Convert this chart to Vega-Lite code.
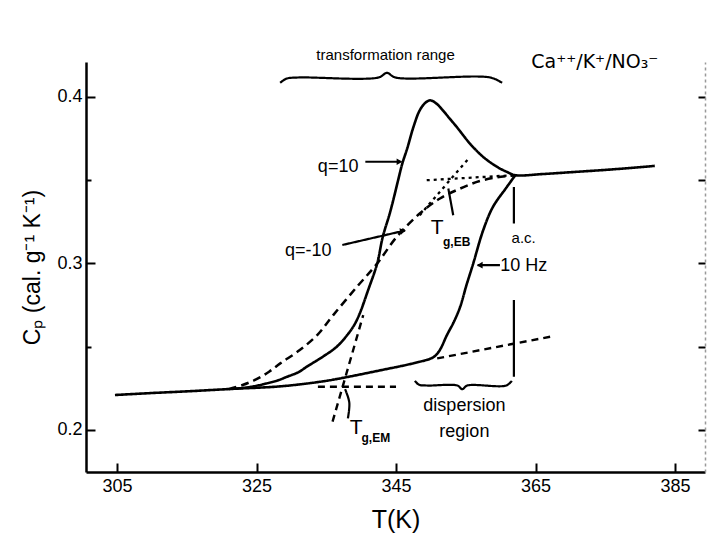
{
  "$schema": "https://vega.github.io/schema/vega-lite/v6.json",
  "width": 619,
  "height": 410,
  "autosize": "none",
  "padding": {"left": 86, "top": 62, "right": 2, "bottom": 74},
  "background": "white",
  "config": {"view": {"stroke": null}, "font": "Liberation Sans"},
  "datasets": {
    "lines": [
      {"s":"ac","kind":"curve","i":0,"T":304.7,"Cp":0.221},
      {"s":"ac","kind":"curve","i":1,"T":310,"Cp":0.2222},
      {"s":"ac","kind":"curve","i":2,"T":315,"Cp":0.2232},
      {"s":"ac","kind":"curve","i":3,"T":322,"Cp":0.2248},
      {"s":"ac","kind":"curve","i":4,"T":328.4,"Cp":0.2262},
      {"s":"ac","kind":"curve","i":5,"T":334.5,"Cp":0.2292},
      {"s":"ac","kind":"curve","i":6,"T":338,"Cp":0.2318},
      {"s":"ac","kind":"curve","i":7,"T":342.7,"Cp":0.2358},
      {"s":"ac","kind":"curve","i":8,"T":347.4,"Cp":0.2400},
      {"s":"ac","kind":"curve","i":9,"T":350.3,"Cp":0.2436},
      {"s":"ac","kind":"curve","i":10,"T":351.2,"Cp":0.2475},
      {"s":"ac","kind":"curve","i":11,"T":352.3,"Cp":0.257},
      {"s":"ac","kind":"curve","i":12,"T":353.3,"Cp":0.265},
      {"s":"ac","kind":"curve","i":13,"T":354.2,"Cp":0.274},
      {"s":"ac","kind":"curve","i":14,"T":355.1,"Cp":0.287},
      {"s":"ac","kind":"curve","i":15,"T":356,"Cp":0.299},
      {"s":"ac","kind":"curve","i":16,"T":357.5,"Cp":0.320},
      {"s":"ac","kind":"curve","i":17,"T":358.9,"Cp":0.334},
      {"s":"ac","kind":"curve","i":18,"T":360.9,"Cp":0.346},
      {"s":"ac","kind":"curve","i":19,"T":362.1,"Cp":0.353},

      {"s":"q10","kind":"curve","i":0,"T":322,"Cp":0.2248},
      {"s":"q10","kind":"curve","i":1,"T":324,"Cp":0.2258},
      {"s":"q10","kind":"curve","i":2,"T":326,"Cp":0.2275},
      {"s":"q10","kind":"curve","i":3,"T":328,"Cp":0.2297},
      {"s":"q10","kind":"curve","i":4,"T":329.4,"Cp":0.232},
      {"s":"q10","kind":"curve","i":5,"T":331,"Cp":0.2347},
      {"s":"q10","kind":"curve","i":6,"T":332.2,"Cp":0.238},
      {"s":"q10","kind":"curve","i":7,"T":334.5,"Cp":0.244},
      {"s":"q10","kind":"curve","i":8,"T":336.5,"Cp":0.250},
      {"s":"q10","kind":"curve","i":9,"T":338,"Cp":0.257},
      {"s":"q10","kind":"curve","i":10,"T":339,"Cp":0.263},
      {"s":"q10","kind":"curve","i":11,"T":339.8,"Cp":0.270},
      {"s":"q10","kind":"curve","i":12,"T":341,"Cp":0.284},
      {"s":"q10","kind":"curve","i":13,"T":342.3,"Cp":0.300},
      {"s":"q10","kind":"curve","i":14,"T":343.1,"Cp":0.316},
      {"s":"q10","kind":"curve","i":15,"T":344.1,"Cp":0.330},
      {"s":"q10","kind":"curve","i":16,"T":344.6,"Cp":0.338},
      {"s":"q10","kind":"curve","i":17,"T":345.3,"Cp":0.350},
      {"s":"q10","kind":"curve","i":18,"T":345.9,"Cp":0.360},
      {"s":"q10","kind":"curve","i":19,"T":346.6,"Cp":0.369},
      {"s":"q10","kind":"curve","i":20,"T":347.5,"Cp":0.382},
      {"s":"q10","kind":"curve","i":21,"T":348.4,"Cp":0.392},
      {"s":"q10","kind":"curve","i":22,"T":349.2,"Cp":0.3965},
      {"s":"q10","kind":"curve","i":23,"T":349.9,"Cp":0.398},
      {"s":"q10","kind":"curve","i":24,"T":350.8,"Cp":0.396},
      {"s":"q10","kind":"curve","i":25,"T":351.7,"Cp":0.392},
      {"s":"q10","kind":"curve","i":26,"T":352.7,"Cp":0.387},
      {"s":"q10","kind":"curve","i":27,"T":353.7,"Cp":0.382},
      {"s":"q10","kind":"curve","i":28,"T":355.6,"Cp":0.372},
      {"s":"q10","kind":"curve","i":29,"T":357.5,"Cp":0.364},
      {"s":"q10","kind":"curve","i":30,"T":359.5,"Cp":0.358},
      {"s":"q10","kind":"curve","i":31,"T":361,"Cp":0.3548},
      {"s":"q10","kind":"curve","i":32,"T":362.1,"Cp":0.353},
      {"s":"q10","kind":"curve","i":33,"T":366,"Cp":0.3537},
      {"s":"q10","kind":"curve","i":34,"T":370,"Cp":0.3548},
      {"s":"q10","kind":"curve","i":35,"T":376,"Cp":0.3565},
      {"s":"q10","kind":"curve","i":36,"T":382.1,"Cp":0.3586},

      {"s":"qm10","kind":"cooling","i":0,"T":321,"Cp":0.2245},
      {"s":"qm10","kind":"cooling","i":1,"T":323,"Cp":0.227},
      {"s":"qm10","kind":"cooling","i":2,"T":325,"Cp":0.2305},
      {"s":"qm10","kind":"cooling","i":3,"T":326.8,"Cp":0.235},
      {"s":"qm10","kind":"cooling","i":4,"T":328.4,"Cp":0.240},
      {"s":"qm10","kind":"cooling","i":5,"T":331.2,"Cp":0.248},
      {"s":"qm10","kind":"cooling","i":6,"T":333.7,"Cp":0.257},
      {"s":"qm10","kind":"cooling","i":7,"T":336,"Cp":0.269},
      {"s":"qm10","kind":"cooling","i":8,"T":339.4,"Cp":0.286},
      {"s":"qm10","kind":"cooling","i":9,"T":342.3,"Cp":0.300},
      {"s":"qm10","kind":"cooling","i":10,"T":345.1,"Cp":0.316},
      {"s":"qm10","kind":"cooling","i":11,"T":348.4,"Cp":0.330},
      {"s":"qm10","kind":"cooling","i":12,"T":351.3,"Cp":0.339},
      {"s":"qm10","kind":"cooling","i":13,"T":354.2,"Cp":0.345},
      {"s":"qm10","kind":"cooling","i":14,"T":357,"Cp":0.3495},
      {"s":"qm10","kind":"cooling","i":15,"T":359.5,"Cp":0.3518},
      {"s":"qm10","kind":"cooling","i":16,"T":362.1,"Cp":0.353},

      {"s":"glass","kind":"extrapolation","i":0,"T":333.8,"Cp":0.226},
      {"s":"glass","kind":"extrapolation","i":1,"T":345,"Cp":0.226},
      {"s":"tangent","kind":"extrapolation","i":0,"T":335.9,"Cp":0.205},
      {"s":"tangent","kind":"extrapolation","i":1,"T":340.3,"Cp":0.269},
      {"s":"acglass","kind":"extrapolation","i":0,"T":350.9,"Cp":0.243},
      {"s":"acglass","kind":"extrapolation","i":1,"T":367.1,"Cp":0.256},
      {"s":"liquid","kind":"liquid","i":0,"T":349.4,"Cp":0.350},
      {"s":"liquid","kind":"liquid","i":1,"T":361.8,"Cp":0.353},
      {"s":"slope","kind":"liquid","i":0,"T":348.4,"Cp":0.329},
      {"s":"slope","kind":"liquid","i":1,"T":355.6,"Cp":0.364},

      {"s":"acmark1","kind":"annotation","i":0,"T":361.9,"Cp":0.346},
      {"s":"acmark1","kind":"annotation","i":1,"T":361.9,"Cp":0.324},
      {"s":"acmark2","kind":"annotation","i":0,"T":361.9,"Cp":0.278},
      {"s":"acmark2","kind":"annotation","i":1,"T":361.9,"Cp":0.232},
      {"s":"lebleader","kind":"annotation","i":0,"T":353.2,"Cp":0.329},
      {"s":"lebleader","kind":"annotation","i":1,"T":352.5,"Cp":0.345},
      {"s":"lemleader","kind":"annotation","i":0,"T":337.7,"Cp":0.2245},
      {"s":"lemleader","kind":"annotation","i":1,"T":338.3,"Cp":0.2165},
      {"s":"lemleader","kind":"annotation","i":2,"T":338.1,"Cp":0.207},
      {"s":"arrq10","kind":"annotation","i":0,"T":340.6,"Cp":0.3611},
      {"s":"arrq10","kind":"annotation","i":1,"T":345.6,"Cp":0.3611},
      {"s":"arrqm10","kind":"annotation","i":0,"T":337.3,"Cp":0.3111},
      {"s":"arrqm10","kind":"annotation","i":1,"T":346.3,"Cp":0.3198},
      {"s":"arrhz","kind":"annotation","i":0,"T":359.9,"Cp":0.299},
      {"s":"arrhz","kind":"annotation","i":1,"T":356.7,"Cp":0.299},
      {"s":"bracedisp","kind":"annotation","i":0,"T":347.7,"Cp":0.2295},
      {"s":"bracedisp","kind":"annotation","i":1,"T":348.3,"Cp":0.2272},
      {"s":"bracedisp","kind":"annotation","i":2,"T":349.5,"Cp":0.2267},
      {"s":"bracedisp","kind":"annotation","i":3,"T":353.8,"Cp":0.2267},
      {"s":"bracedisp","kind":"annotation","i":4,"T":354.5,"Cp":0.2245},
      {"s":"bracedisp","kind":"annotation","i":5,"T":355.2,"Cp":0.2267},
      {"s":"bracedisp","kind":"annotation","i":6,"T":360.8,"Cp":0.2267},
      {"s":"bracedisp","kind":"annotation","i":7,"T":361.6,"Cp":0.2295},
      {"s":"bracetrans","kind":"annotation","i":0,"T":328.4,"Cp":0.4085},
      {"s":"bracetrans","kind":"annotation","i":1,"T":329.3,"Cp":0.411},
      {"s":"bracetrans","kind":"annotation","i":2,"T":331,"Cp":0.4117},
      {"s":"bracetrans","kind":"annotation","i":3,"T":342.5,"Cp":0.4117},
      {"s":"bracetrans","kind":"annotation","i":4,"T":343.7,"Cp":0.4145},
      {"s":"bracetrans","kind":"annotation","i":5,"T":344.9,"Cp":0.4117},
      {"s":"bracetrans","kind":"annotation","i":6,"T":358.5,"Cp":0.4117},
      {"s":"bracetrans","kind":"annotation","i":7,"T":360.2,"Cp":0.4085}
    ],
    "arrows": [
      {"arrow":"q10","T":345.5,"Cp":0.3611},
      {"arrow":"qm10","T":346.0,"Cp":0.3196},
      {"arrow":"hz","T":357.0,"Cp":0.299}
    ],
    "labels": [
      {"T":336.7,"Cp":0.358,"text":"q=10"},
      {"T":332.4,"Cp":0.3075,"text":"q=-10"},
      {"T":363.3,"Cp":0.2985,"text":"10 Hz"},
      {"T":354.8,"Cp":0.2147,"text":"dispersion"},
      {"T":354.8,"Cp":0.1988,"text":"region"}
    ],
    "bigT": [
      {"T":350.9,"Cp":0.3213,"text":"T"},
      {"T":339.3,"Cp":0.2012,"text":"T"}
    ],
    "subs": [
      {"T":353.7,"Cp":0.313,"text":"g,EB"},
      {"T":342.1,"Cp":0.1952,"text":"g,EM"}
    ],
    "small": [
      {"T":363.3,"Cp":0.3153,"text":"a.c."}
    ],
    "header": [
      {"T":343.5,"Cp":0.4252,"text":"transformation range"}
    ],
    "system": [
      {"T":373.5,"Cp":0.421,"text":"Ca⁺⁺/K⁺/NO₃⁻"}
    ]
  },
  "resolve": {"axis": {"y": "independent", "x": "independent"}},
  "layer": [
    {
      "data": {"name": "lines"},
      "mark": {"type": "line", "color": "black", "interpolate": "catmull-rom", "strokeCap": "butt", "clip": false},
      "encoding": {
        "x": {"field": "T", "type": "quantitative",
              "scale": {"domain": [300.55, 389.3], "nice": false, "zero": false},
              "axis": {"values": [305, 325, 345, 365, 385], "tickSize": -9, "tickWidth": 2, "tickColor": "black",
                       "domainColor": "black", "domainWidth": 2.5, "labelFontSize": 18, "labelColor": "black",
                       "labelFont": "Liberation Sans", "labelPadding": 14, "grid": false,
                       "title": "T(K)", "titleFontSize": 25, "titleFontWeight": "normal", "titleColor": "black",
                       "titleFont": "Liberation Sans", "titlePadding": 12}},
        "y": {"field": "Cp", "type": "quantitative",
              "scale": {"domain": [0.17477, 0.421], "nice": false, "zero": false},
              "axis": {"values": [0.2, 0.25, 0.3, 0.35, 0.4],
                       "labelExpr": "(datum.value == 0.25 || datum.value == 0.35) ? '' : format(datum.value, '.1f')",
                       "tickSize": {"condition": {"test": "datum.value == 0.25 || datum.value == 0.35", "value": -5}, "value": -9},
                       "tickWidth": 2, "tickColor": "black", "domainColor": "black", "domainWidth": 2.5,
                       "labelFontSize": 18, "labelColor": "black", "labelFont": "Liberation Sans", "labelPadding": 13,
                       "grid": false, "title": "Cₚ (cal. g⁻¹ K⁻¹)", "titleFontSize": 23, "titleFontWeight": "normal",
                       "titleColor": "black", "titleFont": "Liberation Sans", "titlePadding": 12}},
        "detail": {"field": "s"},
        "order": {"field": "i", "type": "quantitative"},
        "strokeDash": {"field": "kind", "type": "nominal", "legend": null,
                       "scale": {"domain": ["curve", "cooling", "extrapolation", "liquid", "annotation"],
                                 "range": [[1, 0], [8, 5], [7, 5], [3, 4], [1, 0]]}},
        "strokeWidth": {"field": "kind", "type": "nominal", "legend": null,
                        "scale": {"domain": ["curve", "cooling", "extrapolation", "liquid", "annotation"],
                                  "range": [2.6, 2.2, 2.0, 2.2, 1.8]}}
      }
    },
    {
      "data": {"name": "arrows"},
      "transform": [{"filter": "datum.arrow == 'q10'"}],
      "mark": {"type": "point", "shape": "triangle-right", "filled": true, "color": "black", "size": 45, "opacity": 1},
      "encoding": {
        "x": {"field": "T", "type": "quantitative", "axis": null},
        "y": {"field": "Cp", "type": "quantitative",
              "axis": {"orient": "right", "values": [0.2, 0.25, 0.3, 0.35, 0.4], "labels": false, "tickSize": -7,
                       "tickWidth": 2, "tickColor": "black", "domainColor": "#999", "domainWidth": 1.5,
                       "domainDash": [3, 3], "grid": false, "title": null}}
      }
    },
    {
      "data": {"name": "arrows"},
      "transform": [{"filter": "datum.arrow == 'qm10'"}],
      "mark": {"type": "point", "shape": "triangle-right", "filled": true, "color": "black", "size": 45, "angle": -13, "opacity": 1},
      "encoding": {
        "x": {"field": "T", "type": "quantitative", "axis": null},
        "y": {"field": "Cp", "type": "quantitative", "axis": null}
      }
    },
    {
      "data": {"name": "arrows"},
      "transform": [{"filter": "datum.arrow == 'hz'"}],
      "mark": {"type": "point", "shape": "triangle-left", "filled": true, "color": "black", "size": 45, "opacity": 1},
      "encoding": {
        "x": {"field": "T", "type": "quantitative", "axis": null},
        "y": {"field": "Cp", "type": "quantitative", "axis": null}
      }
    },
    {
      "data": {"name": "labels"},
      "mark": {"type": "text", "font": "Liberation Sans", "fontSize": 18, "color": "black", "align": "center", "baseline": "middle"},
      "encoding": {
        "x": {"field": "T", "type": "quantitative", "axis": null},
        "y": {"field": "Cp", "type": "quantitative", "axis": null},
        "text": {"field": "text"}
      }
    },
    {
      "data": {"name": "bigT"},
      "mark": {"type": "text", "font": "Liberation Sans", "fontSize": 21, "color": "black", "align": "center", "baseline": "middle"},
      "encoding": {
        "x": {"field": "T", "type": "quantitative", "axis": null},
        "y": {"field": "Cp", "type": "quantitative", "axis": null},
        "text": {"field": "text"}
      }
    },
    {
      "data": {"name": "subs"},
      "mark": {"type": "text", "font": "Liberation Sans", "fontSize": 12, "fontWeight": "bold", "color": "black", "align": "center", "baseline": "middle"},
      "encoding": {
        "x": {"field": "T", "type": "quantitative", "axis": null},
        "y": {"field": "Cp", "type": "quantitative", "axis": null},
        "text": {"field": "text"}
      }
    },
    {
      "data": {"name": "small"},
      "mark": {"type": "text", "font": "Liberation Sans", "fontSize": 15, "color": "black", "align": "center", "baseline": "middle"},
      "encoding": {
        "x": {"field": "T", "type": "quantitative", "axis": null},
        "y": {"field": "Cp", "type": "quantitative", "axis": null},
        "text": {"field": "text"}
      }
    },
    {
      "data": {"name": "header"},
      "mark": {"type": "text", "font": "Liberation Sans", "fontSize": 15, "color": "black", "align": "center", "baseline": "middle"},
      "encoding": {
        "x": {"field": "T", "type": "quantitative", "axis": null},
        "y": {"field": "Cp", "type": "quantitative", "axis": null},
        "text": {"field": "text"}
      }
    },
    {
      "data": {"name": "system"},
      "mark": {"type": "text", "font": "DejaVu Sans", "fontSize": 19, "color": "black", "align": "center", "baseline": "middle"},
      "encoding": {
        "x": {"field": "T", "type": "quantitative", "axis": null},
        "y": {"field": "Cp", "type": "quantitative", "axis": null},
        "text": {"field": "text"}
      }
    }
  ]
}
